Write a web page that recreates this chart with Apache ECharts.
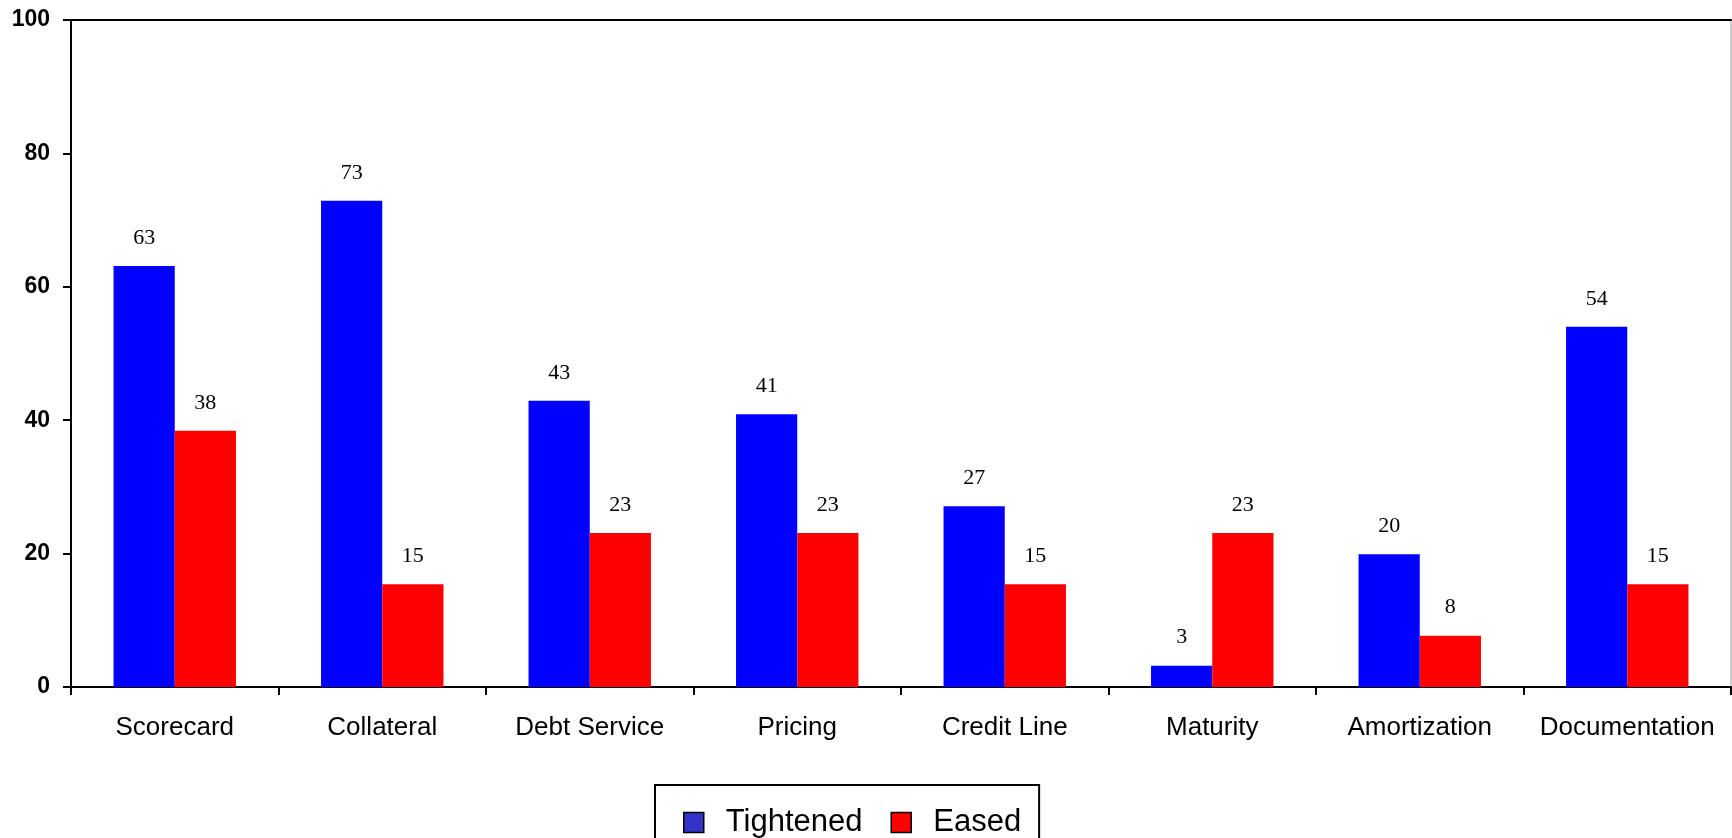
<!DOCTYPE html>
<html>
<head>
<meta charset="utf-8">
<script src="https://cdn.jsdelivr.net/npm/echarts@6/dist/echarts.min.js"></script>
<style>
html,body{margin:0;padding:0;background:#fff;}
#c{width:1732px;height:838px;}
</style>
</head>
<body>
<div id="c"></div>
<script>
const categories = ['Scorecard','Collateral','Debt Service','Pricing','Credit Line','Maturity','Amortization','Documentation'];
const tightened = [63.1, 72.9, 42.9, 40.9, 27.1, 3.2, 19.9, 54.0];
const eased = [38.4, 15.4, 23.1, 23.1, 15.4, 23.1, 7.7, 15.4];
const seriesNames = ['Tightened','Eased'];

const chart = echarts.init(document.getElementById('c'), null, {renderer:'canvas'});
const labelCfg = {
  show: true, position: 'top', distance: 17,
  fontFamily: 'Liberation Serif, Times New Roman, serif', fontSize: 22, color: '#000',
  formatter: p => Math.round(p.value)
};
chart.setOption({
  animation: false,
  backgroundColor: '#fff',
  grid: {left: 71, right: 1, top: 20, bottom: 151, show: true, borderColor: '#9a9a9a', borderWidth: 1},
  legend: {
    left: 655, top: 785,
    padding: [22, 18, 40, 28],
    borderColor: '#000', borderWidth: 2,
    itemWidth: 20, itemHeight: 20, itemGap: 28,
    textStyle: {fontFamily: 'Liberation Sans, Arial, sans-serif', fontSize: 31, color: '#000', padding: [0,0,0,17]},
    data: [
      {name: seriesNames[0], icon: 'rect', itemStyle: {color: '#3333cc', borderColor: '#000', borderWidth: 1.5}},
      {name: seriesNames[1], icon: 'rect', itemStyle: {color: '#ff0000', borderColor: '#000', borderWidth: 1.5}}
    ]
  },
  xAxis: [{
    type: 'category', data: categories,
    axisLine: {lineStyle: {color: '#000', width: 2}},
    axisTick: {show: true, length: 8, lineStyle: {color: '#000', width: 2}},
    axisLabel: {fontFamily: 'Liberation Sans, Arial, sans-serif', fontSize: 26, color: '#000', margin: 28, interval: 0}
  }, {
    type: 'category', data: categories, position: 'top',
    axisLine: {show: true, lineStyle: {color: '#000', width: 2}},
    axisTick: {show: false}, axisLabel: {show: false}
  }],
  yAxis: {
    type: 'value', min: 0, max: 100, interval: 20,
    axisLine: {show: true, lineStyle: {color: '#000', width: 2}},
    axisTick: {show: true, length: 8, lineStyle: {color: '#000', width: 2}},
    splitLine: {show: false},
    axisLabel: {fontFamily: 'Liberation Sans, Arial, sans-serif', fontSize: 23, fontWeight: 'bold', color: '#000', margin: 21}
  },
  series: [
    {name: seriesNames[0], type: 'bar', data: tightened, barGap: '0%', barCategoryGap: '41%',
     itemStyle: {color: '#0000ff'}, label: labelCfg},
    {name: seriesNames[1], type: 'bar', data: eased, barGap: '0%', barCategoryGap: '41%',
     itemStyle: {color: '#ff0000'}, label: labelCfg}
  ]
});
</script>
</body>
</html>
